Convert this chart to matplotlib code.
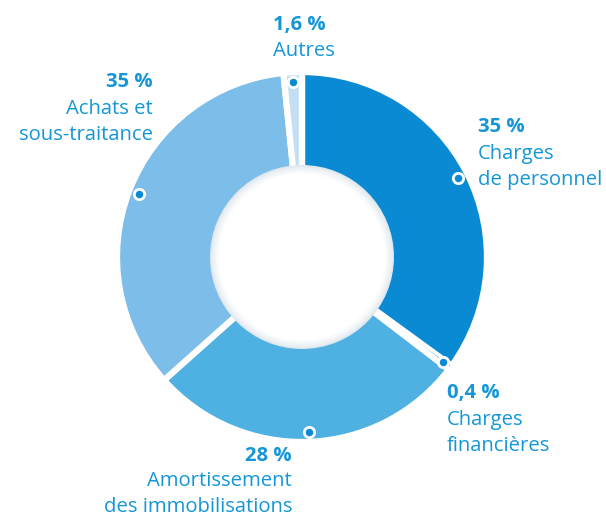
import matplotlib.pyplot as plt
from matplotlib.patches import Circle
import numpy as np

# data (clockwise from 12 o'clock)
labels = ["Charges de personnel", "Charges financières", "Amortissement des immobilisations",
          "Achats et sous-traitance", "Autres"]
values = [35, 0.4, 28, 35, 1.6]
pct_txt = ["35 %", "0,4 %", "28 %", "35 %", "1,6 %"]
colors = ["#0a8ad2", "#0a7fc8", "#4fb0e2", "#7dbde9", "#c4dff4"]

H = 519
txt_col = "#1596d6"
cx, cy = 302, H - 257
r_out, r_in = 185, 92

fig = plt.figure(figsize=(6.06, 5.19), dpi=100)
ax = fig.add_axes([0, 0, 1, 1])

wedges, _ = ax.pie(values, colors=colors, startangle=90, counterclock=False,
                   center=(cx, cy), radius=r_out,
                   wedgeprops=dict(edgecolor="white", linewidth=4.5))
wedges[1].set_linewidth(1.2)
ax.set_xlim(0, 606)
ax.set_ylim(0, H)
ax.set_aspect("equal")
ax.axis("off")

# inner hole: white with a soft grey rim
rim = np.array([0.86, 0.90, 0.93])
n = 12
for k in range(n):
    t = k / (n - 1)
    c = rim + (1 - rim) * t ** 0.7
    ax.add_patch(Circle((cx, cy), r_in - k * 0.8, facecolor=tuple(c), lw=0, zorder=5))

# marker dots
start = 90.0
for i, v in enumerate(values):
    ang = np.deg2rad(start - v * 3.6 / 2)
    start -= v * 3.6
    rr = 175 if v > 1 else 176
    ax.scatter(cx + rr * np.cos(ang), cy + rr * np.sin(ang), s=55,
               facecolor="#0a8ad2", edgecolor="white", linewidth=2, zorder=8)

font = "Open Sans"
fs = 14.6
def block(x, y, lines, ha, gap=26.5):
    ax.text(x, H - y, lines[0], ha=ha, va="center", fontsize=fs, fontweight="bold",
            color=txt_col, family=font)
    for j, t in enumerate(lines[1:]):
        ax.text(x, H - y - gap * (j + 1), t, ha=ha, va="center", fontsize=fs,
                color=txt_col, family=font)

block(478, 127, [pct_txt[0], "Charges", "de personnel"], "left")
block(447, 393, [pct_txt[1], "Charges", "financières"], "left")
block(292, 456, [pct_txt[2], "Amortissement", "des immobilisations"], "right", gap=25.5)
block(153, 82, [pct_txt[3], "Achats et", "sous-traitance"], "right")
block(273, 25, [pct_txt[4], "Autres"], "left")

fig.savefig("out.png", dpi=100)
